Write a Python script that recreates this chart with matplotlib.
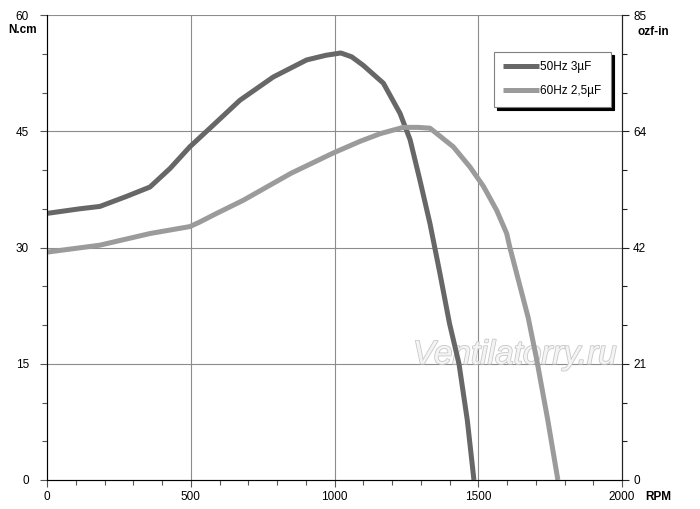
import matplotlib.pyplot as plt
from matplotlib.ticker import MultipleLocator, FixedLocator
import matplotlib.patheffects as pe

plt.rcParams['font.family'] = ['Liberation Sans Narrow', 'Liberation Sans', 'DejaVu Sans']

# 50Hz 3uF curve
rpm_50 = [0, 115, 184, 277, 358, 428, 497, 567, 671, 787, 903, 970, 1022, 1060, 1100,
          1170, 1228, 1263, 1297, 1332, 1367, 1400, 1433, 1462, 1485]
torque_50 = [34.4, 35.0, 35.3, 36.6, 37.8, 40.2, 43.0, 45.4, 49.0, 52.0, 54.2, 54.8, 55.1, 54.6, 53.5,
             51.2, 47.3, 43.9, 38.7, 33.1, 26.6, 20.2, 15.0, 7.7, 0.0]

# 60Hz 2,5uF curve
rpm_60 = [0, 184, 358, 497, 532, 590, 683, 764, 850, 996, 1089, 1160, 1239, 1290, 1332,
          1413, 1471, 1518, 1564, 1599, 1610, 1634, 1674, 1703, 1742, 1777]
torque_60 = [29.4, 30.3, 31.8, 32.7, 33.3, 34.4, 36.1, 37.8, 39.6, 42.2, 43.7, 44.7, 45.5, 45.5, 45.4,
             43.0, 40.4, 37.9, 34.8, 31.8, 30.0, 26.6, 20.9, 15.6, 7.7, 0.0]

left_ticks = [0, 15, 30, 45, 60]
right_ticks = [0, 21.25, 42.5, 63.75, 85]
right_labels = ["0", "21", "42", "64", "85"]
x_ticks = [0, 500, 1000, 1500, 2000]

fig = plt.figure(figsize=(7, 5.09), dpi=100)
ax = fig.add_axes([47 / 700, 1 - 480 / 509, 575 / 700, 465 / 509])

ax.set_xlim(0, 2000)
ax.set_ylim(0, 60)
ax.set_xticks(x_ticks)
ax.set_yticks(left_ticks)
ax.xaxis.set_minor_locator(MultipleLocator(100))
ax.yaxis.set_minor_locator(MultipleLocator(5))
ax.tick_params(which='major', length=5, width=0.8, color='#555555', labelsize=8.5, pad=3)
ax.tick_params(which='minor', length=3.5, width=0.8, color='#555555')
ax.tick_params(axis='y', pad=8)

for v in [500, 1000, 1500]:
    ax.axvline(v, color='#8c8c8c', lw=0.8, zorder=1)
for h in [15, 30, 45, 60]:
    ax.axhline(h, color='#8c8c8c', lw=0.8, zorder=1)

ax.spines['top'].set_visible(False)
ax.spines['left'].set_color('#555555')
ax.spines['bottom'].set_color('#555555')
ax.spines['right'].set_color('#222222')

ax.text(1628, 16.1, "Ventilatorry.ru", fontsize=24, style='italic', color='#f4f4f4',
        family=['Liberation Sans', 'DejaVu Sans'], ha='center', va='center', zorder=2,
        path_effects=[pe.Stroke(linewidth=1.2, foreground='#c8c8c8'), pe.Normal()])

l1, = ax.plot(rpm_50, torque_50, color='#676767', lw=3.6, solid_capstyle='butt',
              solid_joinstyle='round', zorder=3, label='50Hz 3µF')
l2, = ax.plot(rpm_60, torque_60, color='#9b9b9b', lw=3.6, solid_capstyle='butt',
              solid_joinstyle='round', zorder=3, label='60Hz 2,5µF')

ax2 = ax.twinx()
ax2.set_ylim(0, 85)
ax2.yaxis.set_major_locator(FixedLocator(right_ticks))
ax2.set_yticklabels(right_labels)
ax2.yaxis.set_minor_locator(MultipleLocator(85 / 12))
ax2.tick_params(which='major', length=5, width=0.8, color='#222222', labelsize=8.5, pad=3)
ax2.tick_params(which='minor', length=3.5, width=0.8, color='#222222')
ax2.spines['top'].set_visible(False)
ax2.spines['right'].set_color('#222222')

leg = ax2.legend(handles=[l1, l2], loc='upper left',
                 bbox_to_anchor=(494 / 700, 1 - 52 / 509), bbox_transform=fig.transFigure,
                 borderaxespad=0, fontsize=8.5, handlelength=3.0, handletextpad=0.1,
                 labelspacing=1.0, borderpad=0.8, fancybox=False, framealpha=1,
                 edgecolor='#808080',
                 shadow={'color': 'black', 'alpha': 1, 'ox': 2.5, 'oy': -2.5})
leg.get_frame().set_linewidth(0.8)

fig.text(8 / 700, 1 - 30 / 509, "N.cm", fontsize=8.5, fontweight='bold', ha='left', va='center')
fig.text(637 / 700, 1 - 32 / 509, "ozf-in", fontsize=8.5, fontweight='bold', ha='left', va='center')
fig.text(645 / 700, 1 - 497 / 509, "RPM", fontsize=8.5, fontweight='bold', ha='left', va='center')

fig.savefig("out.png", dpi=100)
